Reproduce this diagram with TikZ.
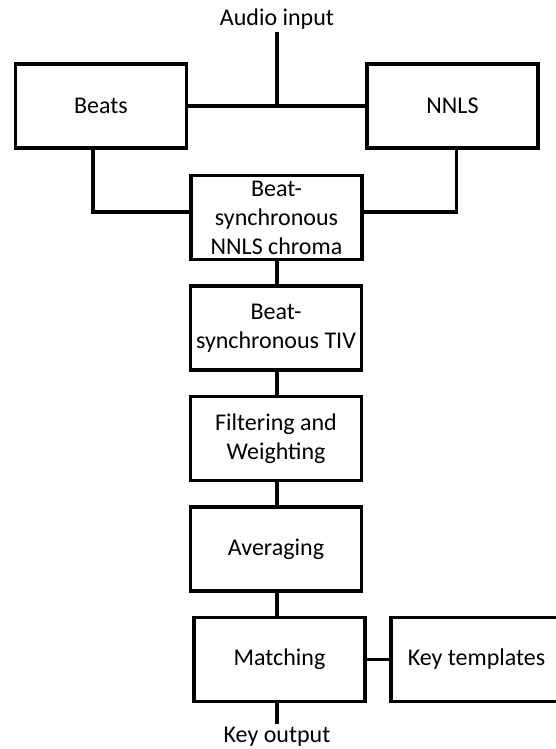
\documentclass[tikz,border=0pt]{standalone}
\usepackage{fontspec}
\setmainfont{Carlito}
\begin{document}
\begin{tikzpicture}[x=1pt,y=1pt,
  box/.style={draw=black, line width=3.2pt, fill=white, minimum width=171pt, minimum height=84pt,
    align=center, inner sep=2pt, font=\fontsize{24}{29}\selectfont},
  lbl/.style={align=center, inner sep=0pt, font=\fontsize{24}{29}\selectfont},
  conn/.style={draw=black, line width=3.2pt, line join=miter}]
\useasboundingbox (0,0) rectangle (555,-749);
\node[box] (beats) at (101,-106) {Beats};
\node[box] (nnls) at (452.5,-106) {NNLS};
\node[box] (chroma) at (276.5,-217.5) {Beat-\\synchronous\\NNLS chroma};
\node[box] (tiv) at (276,-328) {Beat-\\synchronous TIV};
\node[box] (filt) at (276,-438.5) {Filtering and\\Weighting};
\node[box] (avg) at (276,-549) {Averaging};
\node[box] (match) at (279.5,-659.5) {Matching};
\node[box] (keyt) at (476.5,-659.5) {Key templates};
\node[lbl] (audio) at (277,-19) {Audio input};
\node[lbl] (keyout) at (277,-736.5) {Key output};
\coordinate (atop) at (277,-32);
\coordinate (kbot) at (277,-724);
\draw[conn] (beats.east) -- (nnls.west);
\draw[conn] (atop) -- (atop |- beats.east);
\draw[conn] ([xshift=-8pt]beats.south) |- ([yshift=5.5pt]chroma.west);
\draw[conn] ([xshift=4pt]nnls.south) |- ([yshift=5.5pt]chroma.east);
\draw[conn] (atop |- chroma.south) -- (atop |- tiv.north);
\draw[conn] (atop |- tiv.south) -- (atop |- filt.north);
\draw[conn] (atop |- filt.south) -- (atop |- avg.north);
\draw[conn] (atop |- avg.south) -- (atop |- match.north);
\draw[conn] (atop |- match.south) -- (kbot);
\draw[conn] (match.east) -- (keyt.west);
\end{tikzpicture}
\end{document}
